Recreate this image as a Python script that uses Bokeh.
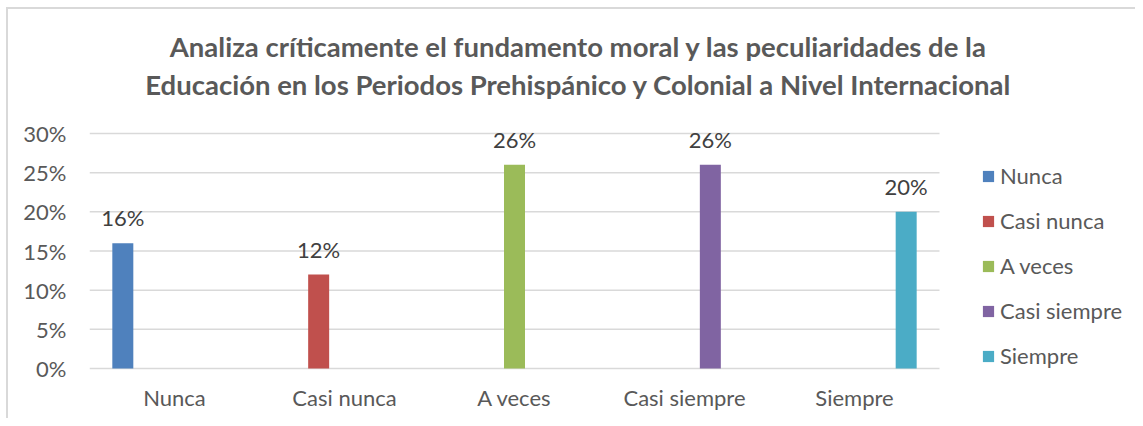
from bokeh.plotting import figure
from bokeh.models import (Range1d, ColumnDataSource, LabelSet, Label,
                          NumeralTickFormatter, FixedTicker)
from bokeh.core.properties import value
from bokeh.embed import file_html
from bokeh.resources import INLINE

categories = ["Nunca", "Casi nunca", "A veces", "Casi siempre", "Siempre"]
values = [0.16, 0.12, 0.26, 0.26, 0.20]
labels = ["16%", "12%", "26%", "26%", "20%"]
colors = ["#4F81BD", "#C0504D", "#9BBB59", "#8064A2", "#4BACC6"]
y_ticks = [0, 0.05, 0.10, 0.15, 0.20, 0.25, 0.30]
title_lines = ["Analiza críticamente el fundamento moral y las peculiaridades de la",
               "Educación en los Periodos Prehispánico y Colonial a Nivel Internacional"]

FONT = "Lato"
TXT = "#595959"
FS = "22px"

# layout (pixels)
CAT_PX = 170.0            # width of one category slot
PX_PER_UNIT = 235.0 / 0.30
FRAME_W, FRAME_H = 1046, 361
ZERO_Y = 359              # canvas y of the 0% line

n = len(categories)
x_end = FRAME_W / CAT_PX
y_end = ZERO_Y / PX_PER_UNIT
y_start = -(FRAME_H - ZERO_Y) / PX_PER_UNIT

p = figure(x_range=Range1d(0, x_end), y_range=Range1d(y_start, y_end),
           frame_width=FRAME_W, frame_height=FRAME_H,
           output_backend="svg", toolbar_location=None,
           min_border_left=81, min_border_right=0, min_border_top=0,
           min_border_bottom=48)
p.styles = {"margin-top": "7px", "margin-left": "6px",
            "border-top": "2px solid #d9d9d9", "border-left": "2px solid #d9d9d9"}
p.outline_line_color = None
p.xgrid.grid_line_color = None
p.ygrid.grid_line_color = None

# horizontal gridlines only across the category area
p.segment(x0=[0] * len(y_ticks), x1=[n] * len(y_ticks), y0=y_ticks, y1=y_ticks,
          line_color="#d9d9d9", line_width=1.5)

p.yaxis.ticker = FixedTicker(ticks=y_ticks)
p.yaxis.formatter = NumeralTickFormatter(format="0%")
cat_pos = [k + 0.5 for k in range(n)]
p.xaxis.ticker = FixedTicker(ticks=cat_pos)
p.xaxis.major_label_overrides = {pos: c for pos, c in zip(cat_pos, categories)}
for ax in (p.xaxis[0], p.yaxis[0]):
    ax.axis_line_color = None
    ax.major_tick_line_color = None
    ax.minor_tick_line_color = None
    ax.major_tick_out = 0
    ax.major_tick_in = 0
    ax.major_label_text_font = FONT
    ax.major_label_text_font_size = FS
    ax.major_label_text_color = TXT
p.yaxis.major_label_standoff = 23
p.xaxis.major_label_standoff = 13

step = 0.152
bar_w = 0.1235
for i, (cat, val, lab, col) in enumerate(zip(categories, values, labels, colors)):
    xpos = cat_pos[i] + (i - 2) * step
    src = ColumnDataSource(dict(x=[xpos], top=[val], txt=[lab]))
    p.vbar(x="x", top="top", width=bar_w, source=src,
           color=col, line_color=None, legend_label=cat)
    p.add_layout(LabelSet(x="x", y="top", text="txt", source=src,
                          text_align="center", text_baseline="alphabetic", y_offset=17,
                          text_font=value(FONT), text_font_size=FS, text_color="#404040"))

title_x = 489 / CAT_PX
for line, cy in zip(title_lines, [37, 75]):
    p.add_layout(Label(x=title_x, y=(ZERO_Y - cy) / PX_PER_UNIT, text=line,
                       text_align="center", text_baseline="middle", text_font=FONT,
                       text_font_size="27.5px", text_font_style="bold", text_color=TXT))

lg = p.legend[0]
lg.location = (892, 1)
lg.glyph_width = 14
lg.glyph_height = 14
lg.label_standoff = 5
lg.label_text_font = FONT
lg.label_text_font_size = FS
lg.label_text_color = TXT
lg.label_height = 27
lg.spacing = 18
lg.padding = 0
lg.margin = 0
lg.border_line_color = None
lg.background_fill_alpha = 0

open("out.html", "w").write(file_html(p, INLINE))
